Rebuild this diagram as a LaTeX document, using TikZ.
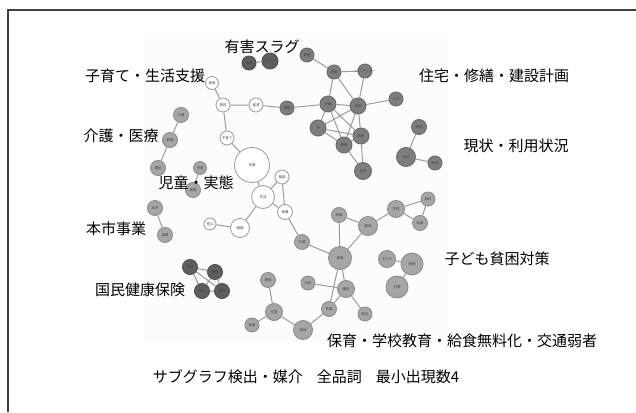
\documentclass[tikz,border=0pt]{standalone}
\usepackage{fontspec}
\setmainfont{Noto Sans CJK JP}
\usetikzlibrary{backgrounds}
\definecolor{cdark}{HTML}{5E5E5E}
\definecolor{cdarkb}{HTML}{4E4E4E}
\definecolor{cmid}{HTML}{7E7E7E}
\definecolor{cmidb}{HTML}{6A6A6A}
\definecolor{clight}{HTML}{A6A6A6}
\definecolor{clightb}{HTML}{8C8C8C}
\definecolor{cwhiteb}{HTML}{A4A4A4}
\definecolor{cedge}{HTML}{9C9C9C}
\definecolor{cframe}{HTML}{404040}
\definecolor{cbg}{HTML}{FCFCFC}
\tikzset{
  nd/.style={circle, inner sep=0pt, line width=0.9pt, font=\fontsize{3.5}{4}\selectfont, text=black!75},
  dk/.style={nd, fill=cdark, draw=cdarkb},
  md/.style={nd, fill=cmid, draw=cmidb},
  lt/.style={nd, fill=clight, draw=clightb},
  wt/.style={nd, fill=white, draw=cwhiteb},
  sz/.style={minimum size=#1pt},
  lab/.style={font=\fontsize{15}{16}\selectfont, text=black, inner sep=0pt},
  edge/.style={draw=cedge, line width=1pt},
}
\begin{document}
\begin{tikzpicture}[x=1pt,y=-1pt]
\useasboundingbox (0,0) rectangle (636,412);
\draw[cframe, line width=1.3pt] (8,412) -- (8,10) -- (636,10);

% 有害スラグ
\node[dk,sz=14] (yugai) at (249,63) {有害};
\node[dk,sz=16] (slag) at (270,61) {スラグ};

% 住宅・修繕・建設計画
\node[md,sz=14] (yobo) at (307,55) {要望};
\node[md,sz=14] (korei) at (334,72) {高齢};
\node[md,sz=14,label={[font=\fontsize{3.5}{4}\selectfont,text=black!75,inner sep=0pt]center:バリアフリー}] (barrier) at (365,71) {};
\node[md,sz=14] (jinko) at (396,99) {人口};
\node[md,sz=16] (keikaku) at (328,104) {計画};
\node[md,sz=16] (shiei) at (358,106) {市営};
\node[md,sz=14] (kensetsu) at (287,108) {建設};
\node[md,sz=16] (shi) at (318,128) {市};
\node[md,sz=16] (kaishu) at (361,136) {改修};
\node[md,sz=16] (shuzen) at (344,145) {修繕};
\node[md,sz=17] (jutaku) at (363,171) {住宅};

% 現状・利用状況
\node[md,sz=15] (genjo) at (419,127) {現状};
\node[md,sz=19] (jokyo) at (406,157) {状況};
\node[md,sz=14] (riyo) at (435,163) {利用};

% 子育て・生活支援
\node[wt,sz=13] (katei) at (212,83) {家庭};
\node[wt,sz=14] (futan) at (223,105) {負担};
\node[wt,sz=14] (keizai) at (256,105) {経済};
\node[wt,sz=14] (kosodate) at (227,138) {子育て};
\node[wt,sz=35] (shien) at (252,165) {支援};
\node[wt,sz=14] (soudan) at (282,177) {相談};
\node[wt,sz=23] (seikatsu) at (263,197) {生活};
\node[wt,sz=15] (hogo) at (285,212) {保護};
\node[wt,sz=19] (konkyu) at (240,228) {困窮};
\node[wt,sz=12] (mado) at (210,224) {窓口};

% 介護・医療
\node[lt,sz=15] (kaigo) at (181,115) {介護};
\node[lt,sz=15] (iryo) at (170,140) {医療};
\node[lt,sz=15] (fukushiK) at (158,168) {福祉};

% 児童・実態
\node[lt,sz=13] (jido) at (200,168) {児童};
\node[lt,sz=15] (jittai) at (193,190) {実態};

% 本市事業
\node[lt,sz=15] (honshi) at (155,208) {本市};
\node[lt,sz=15] (jigyo) at (165,235) {事業};

% 国民健康保険
\node[dk,sz=15] (seido) at (190,267) {制度};
\node[dk,sz=15] (hoken) at (215,272) {保険};
\node[dk,sz=15] (kokumin) at (202,291) {国民};
\node[dk,sz=15] (kenko) at (222,291) {健康};

% 保育・学校教育・給食無料化・交通弱者
\node[lt,sz=15] (gyosei) at (302,242) {行政};
\node[lt,sz=23] (hoiku) at (340,258) {保育};
\node[lt,sz=15] (bukka) at (339,215) {物価};
\node[lt,sz=19] (kyoiku) at (368,226) {教育};
\node[lt,sz=17] (gakko) at (396,209) {学校};
\node[lt,sz=14] (muryo) at (428,199) {無料};
\node[lt,sz=15] (kyushoku) at (420,223) {給食};
\node[lt,sz=14] (taio) at (308,283) {対応};
\node[lt,sz=17] (fukushi) at (346,289) {福祉};
\node[lt,sz=15] (sagyo) at (329,309) {作業};
\node[lt,sz=14] (anzen) at (365,314) {安全};
\node[lt,sz=19] (chiiki) at (303,330) {地域};
\node[lt,sz=15] (shisetsu) at (268,280) {施設};
\node[lt,sz=17] (kotsu) at (274,312) {交通};
\node[lt,sz=14] (jakusha) at (252,325) {弱者};

% 子ども貧困対策
\node[lt,sz=17] (kodomo) at (387,259) {子ども};
\node[lt,sz=22] (hinkon) at (412,264) {貧困};
\node[lt,sz=22] (taisaku) at (397,287) {対策};

\begin{scope}[on background layer]
\fill[cbg] (144,38) rectangle (448,343);
\path[edge]
  (yugai) -- (slag)
  (yobo) -- (korei) (korei) -- (barrier) (korei) -- (keikaku) (korei) -- (shiei)
  (barrier) -- (shiei) (kensetsu) -- (keikaku) (keikaku) -- (shiei) (shiei) -- (jinko)
  (keikaku) -- (shi) (keikaku) -- (kaishu) (keikaku) -- (shuzen)
  (shiei) -- (shi) (shiei) -- (shuzen) (shiei) -- (kaishu)
  (shi) -- (kaishu) (shi) -- (shuzen) (shuzen) -- (kaishu)
  (shuzen) -- (jutaku) (kaishu) -- (jutaku)
  (genjo) -- (jokyo) (jokyo) -- (riyo)
  (katei) -- (futan) (futan) -- (keizai) (keizai) -- (kensetsu)
  (futan) -- (kosodate) (kosodate) -- (shien) (shien) -- (seikatsu)
  (seikatsu) -- (soudan) (soudan) -- (hogo) (seikatsu) -- (hogo)
  (seikatsu) -- (konkyu) (mado) -- (konkyu) (hogo) -- (gyosei)
  (kaigo) -- (iryo) (iryo) -- (fukushiK)
  (jido) -- (jittai)
  (honshi) -- (jigyo)
  (seido) -- (hoken) (seido) -- (kokumin) (seido) -- (kenko)
  (hoken) -- (kokumin) (hoken) -- (kenko) (kokumin) -- (kenko)
  (bukka) -- (kyoiku) (bukka) -- (hoiku) (kyoiku) -- (hoiku)
  (kyoiku) -- (gakko) (gakko) -- (muryo) (gakko) -- (kyushoku) (muryo) -- (kyushoku)
  (gyosei) -- (hoiku) (hoiku) -- (fukushi) (hoiku) -- (sagyo)
  (taio) -- (fukushi) (fukushi) -- (sagyo) (fukushi) -- (anzen)
  (sagyo) -- (chiiki) (chiiki) -- (kotsu) (kotsu) -- (shisetsu) (kotsu) -- (jakusha)
  (kodomo) -- (hinkon) (hinkon) -- (taisaku);
\end{scope}

% cluster labels
\node[lab] (l1) at (262,47) {有害スラグ};
\node[lab] (l2) at (145,76) {子育て・生活支援};
\node[lab] (l3) at (494,76) {住宅・修繕・建設計画};
\node[lab] (l4) at (121,136) {介護・医療};
\node[lab] (l5) at (516,146) {現状・利用状況};
\node[lab] (l6) at (196,183) {児童・実態};
\node[lab] (l7) at (116,229) {本市事業};
\node[lab] (l8) at (497,259) {子ども貧困対策};
\node[lab] (l9) at (140,290) {国民健康保険};
\node[lab] (l10) at (462,341) {保育・学校教育・給食無料化・交通弱者};
\node[lab] (l11) at (306,377) {サブグラフ検出・媒介\hspace{14pt}全品詞\hspace{14pt}最小出現数4};
\end{tikzpicture}
\end{document}
